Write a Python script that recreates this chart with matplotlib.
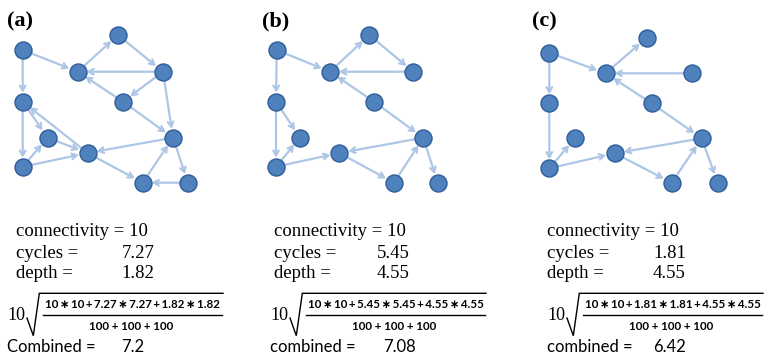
import numpy as np
import matplotlib
matplotlib.use("Agg")
import matplotlib.pyplot as plt

# node layout of each panel, in pixels of the 765x359 picture
node_names = ["A", "B", "C", "D", "E", "F", "G", "H", "I", "J", "K", "L"]
nodes_a_x = [22.7, 118.0, 77.7, 163.0, 22.7, 123.0, 47.7, 173.0, 87.7, 22.7, 142.7, 188.0]
nodes_a_y = [50.0, 35.0, 71.7, 71.7, 101.7, 101.7, 137.7, 137.7, 153.0, 166.7, 182.7, 182.7]
nodes_b_x = [276.7, 369.3, 330.0, 413.3, 276.0, 374.0, 300.0, 423.3, 339.3, 276.0, 394.0, 437.7]
nodes_b_y = [50.0, 35.0, 71.7, 71.7, 101.7, 101.7, 137.7, 137.7, 153.0, 166.7, 182.7, 182.7]
nodes_c_x = [549.3, 646.7, 605.7, 692.3, 549.3, 651.7, 575.0, 701.7, 615.0, 549.3, 671.7, 717.7]
nodes_c_y = [52.7, 37.7, 73.3, 73.3, 103.3, 103.3, 138.3, 138.3, 153.3, 168.3, 182.7, 182.7]

edges_a = ["AC", "AE", "CB", "BD", "DC", "DF", "FC", "FH", "DH", "EG", "EJ", "IE",
           "GI", "JG", "JI", "HI", "IK", "KH", "HL", "LK"]
edges_b = ["AC", "AE", "CB", "BD", "DC", "FC", "FH", "EG", "EJ", "JG", "JI", "HI",
           "IK", "KH", "HL"]
edges_c = ["AC", "AE", "CB", "DC", "FC", "FH", "EJ", "JG", "JI", "HI", "IK", "KH", "HL"]

labels = ["(a)", "(b)", "(c)"]
connectivity = ["10", "10", "10"]
cycles = ["7.27", "5.45", "1.81"]
depth = ["1.82", "4.55", "4.55"]
combined_word = ["Combined", "combined", "combined"]
combined = ["7.2", "7.08", "6.42"]
denominator = "100 + 100 + 100"

panels = [
    (nodes_a_x, nodes_a_y, edges_a),
    (nodes_b_x, nodes_b_y, edges_b),
    (nodes_c_x, nodes_c_y, edges_c),
]

# x anchors of the text blocks
label_x = [7, 262, 532]
text_x = [16, 274, 547]
value_x = [121.7, 376.7, 653]
formula_x = [7, 270, 547]
combined_x = [120.7, 383, 653]

W, H = 765, 359
fig = plt.figure(figsize=(W / 100, H / 100), dpi=100)
ax = fig.add_axes([0, 0, 1, 1])
ax.set_xlim(0, W)
ax.set_ylim(H, 0)
ax.axis("off")

edge_col = "#adc6e5"
node_fill = "#4f81bd"
node_edge = "#2e5d9b"
serif = ["Liberation Serif", "DejaVu Serif"]
sans = ["Lato", "DejaVu Sans"]
thin = "\u2009"

for k, (xs, ys, edges) in enumerate(panels):
    pos = {n: (x, y) for n, x, y in zip(node_names, xs, ys)}
    for e in edges:
        ax.annotate("", xy=pos[e[1]], xytext=pos[e[0]],
                    arrowprops=dict(arrowstyle="->,head_length=0.35,head_width=0.2",
                                    color=edge_col, lw=1.6, shrinkA=6, shrinkB=6.5),
                    zorder=1)
    ax.scatter(xs, ys, s=150, c=node_fill, edgecolors=node_edge, linewidths=1.0, zorder=3)

    ax.text(label_x[k], 21, labels[k], fontsize=16, fontweight="bold", family=serif,
            va="center", ha="left")

    tx = text_x[k]
    vx = value_x[k]
    ax.text(tx, 232, "connectivity = " + connectivity[k], fontsize=13.5, family=serif,
            va="center", ha="left")
    ax.text(tx, 253, "cycles =", fontsize=13.5, family=serif, va="center", ha="left")
    ax.text(vx, 253, cycles[k], fontsize=13.5, family=serif, va="center", ha="left")
    ax.text(tx, 274, "depth =", fontsize=13.5, family=serif, va="center", ha="left")
    ax.text(vx, 274, depth[k], fontsize=13.5, family=serif, va="center", ha="left")

    fx = formula_x[k]
    ax.text(fx, 315, "10", fontsize=13, family=serif, va="center", ha="left")
    ax.plot([fx + 20, fx + 26.3, fx + 32.3, fx + 216], [318, 335.7, 293.3, 293.3],
            color="black", lw=1.0, solid_joinstyle="miter")
    ax.plot([fx + 36, fx + 215], [315, 315], color="black", lw=1.0)
    terms = [connectivity[k], cycles[k], depth[k]]
    num = (thin + "+" + thin).join(t + thin + "∗" + thin + t for t in terms)
    ax.text(fx + 125.5, 305, num, fontsize=8.3, fontweight="bold", family=sans,
            va="center", ha="center")
    ax.text(fx + 124, 326, denominator, fontsize=8.3, fontweight="bold", family=sans,
            va="center", ha="center")

    ax.text(fx, 347, combined_word[k] + " =", fontsize=12, family=sans,
            va="center", ha="left")
    ax.text(combined_x[k], 347, combined[k], fontsize=12, family=sans, va="center", ha="left")

fig.savefig("out.png", dpi=100)
